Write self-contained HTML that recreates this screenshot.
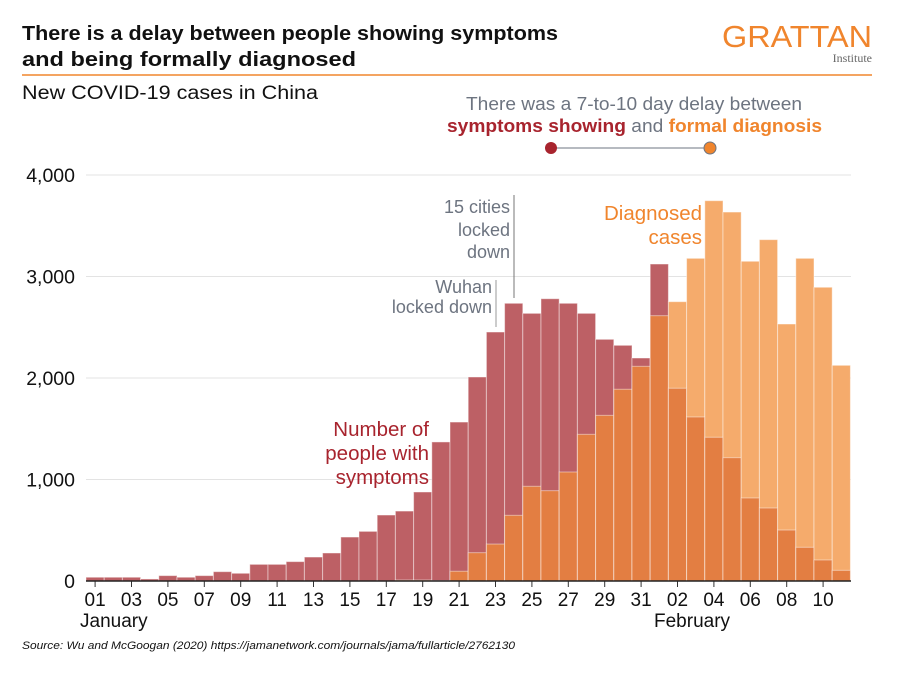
<!DOCTYPE html>
<html><head><meta charset="utf-8"><style>
body{margin:0;background:#fff;font-family:"Liberation Sans",sans-serif}
svg text{font-family:"Liberation Sans",sans-serif}
</style></head><body>
<svg width="906" height="677" xmlns="http://www.w3.org/2000/svg">
<text x="22" y="40" font-size="20" font-weight="bold" fill="#111" textLength="536" lengthAdjust="spacingAndGlyphs">There is a delay between people showing symptoms</text>
<text x="22" y="66" font-size="20" font-weight="bold" fill="#111" textLength="334" lengthAdjust="spacingAndGlyphs">and being formally diagnosed</text>
<text x="872" y="47" font-size="31" fill="#f0852d" text-anchor="end" textLength="150" lengthAdjust="spacingAndGlyphs">GRATTAN</text>
<text x="872" y="62" font-size="12" fill="#666" text-anchor="end" style="font-family:'Liberation Serif',serif">Institute</text>
<line x1="22" y1="75" x2="872" y2="75" stroke="#f0852d" stroke-width="1.5"/>
<text x="22" y="99" font-size="19" fill="#111" textLength="296" lengthAdjust="spacingAndGlyphs">New COVID-19 cases in China</text>
<text x="466" y="110" font-size="18" fill="#6d7480" textLength="336" lengthAdjust="spacingAndGlyphs">There was a 7-to-10 day delay between</text>
<text x="447" y="132" font-size="18" font-weight="bold" textLength="375" lengthAdjust="spacingAndGlyphs"><tspan fill="#a8242e">symptoms showing</tspan><tspan fill="#6d7480" font-weight="normal"> and </tspan><tspan fill="#f0852d">formal diagnosis</tspan></text>
<line x1="551" y1="148" x2="710" y2="148" stroke="#6d7480" stroke-width="1"/>
<circle cx="551" cy="148" r="6" fill="#a8242e"/>
<circle cx="710" cy="148" r="6" fill="#f0852d" stroke="#6d7480" stroke-width="1"/>
<g id="grid"></g><g id="bars"></g><g id="axis"></g>
<line x1="514" y1="195" x2="514" y2="298" stroke="#777"/>
<text font-size="18" fill="#6d7480" text-anchor="end"><tspan x="510" y="213">15 cities</tspan><tspan x="510" y="236">locked</tspan><tspan x="510" y="258">down</tspan></text>
<line x1="496" y1="280" x2="496" y2="327" stroke="#999"/>
<text font-size="18" fill="#6d7480" text-anchor="end"><tspan x="492" y="293">Wuhan</tspan><tspan x="492" y="313">locked down</tspan></text>
<text font-size="20.5" fill="#a8242e" text-anchor="end"><tspan x="429" y="436">Number of</tspan><tspan x="429" y="460">people with</tspan><tspan x="429" y="484">symptoms</tspan></text>
<text font-size="20.5" fill="#f0852d" text-anchor="end"><tspan x="702" y="220">Diagnosed</tspan><tspan x="702" y="244">cases</tspan></text>
<text x="80" y="627" font-size="19" fill="#111">January</text>
<text x="654" y="627" font-size="19" fill="#111">February</text>
<text x="22" y="649" font-size="11" font-style="italic" fill="#111" textLength="493" lengthAdjust="spacingAndGlyphs">Source: Wu and McGoogan (2020) https://jamanetwork.com/journals/jama/fullarticle/2762130</text>
</svg>
<script>
const days=["01","02","03","04","05","06","07","08","09","10","11","12","13","14","15","16","17","18","19","20","21","22","23","24","25","26","27","28","29","30","31","01","02","03","04","05","06","07","08","09","10","11"];
const symptoms=[37,37,37,20,53,37,53,92,76,164,164,191,236,276,433,489,650,689,877,1370,1566,2010,2453,2736,2637,2781,2736,2637,2381,2322,2197,3123,1899,1616,1416,1215,818,719,502,332,207,105];
const diagnosed=[0,0,0,0,0,0,0,0,0,0,0,0,0,0,0,0,0,10,10,5,96,279,364,647,933,890,1074,1445,1632,1889,2115,2614,2752,3179,3747,3635,3150,3363,2532,3179,2894,2125];
const yTicks=[0,1000,2000,3000,4000];
const yTickLabels=["0","1,000","2,000","3,000","4,000"];
const NS="http://www.w3.org/2000/svg";
const x0=86,bw=18.2,y0=581,k=101.5/1000;
const X=i=>x0+i*bw, Y=v=>y0-v*k;
function mk(t,a,p){const e=document.createElementNS(NS,t);for(const n in a)e.setAttribute(n,a[n]);document.getElementById(p).appendChild(e);return e;}
yTicks.forEach((v,i)=>{
 if(v>0){const g=mk('line',{x1:86,x2:851,y1:Y(v),y2:Y(v),stroke:'#e3e3e3'},'grid');
 
 }
 const t=mk('text',{x:75,y:Y(v)+7,'font-size':19.5,fill:'#111','text-anchor':'end'},'grid');t.textContent=yTickLabels[i];
 
 
});
days.forEach((d,i)=>{
 const s=symptoms[i],dg=diagnosed[i],m=Math.min(s,dg);
 const top=Math.max(s,dg);
 const topCol=s>dg?'#bd6065':'#f5ab6c';
 const r1=mk('rect',{x:X(i),y:Y(top),width:bw,height:top*k,fill:topCol,stroke:'#fff','stroke-opacity':0.45,'stroke-width':1},'bars');
 
 
 if(m>0){const r2=mk('rect',{x:X(i),y:Y(m),width:bw,height:m*k,fill:'#e37e42',stroke:'#fff','stroke-opacity':0.45,'stroke-width':1},'bars');
 
 }
 if(i%2===0){
  const cx=X(i)+bw/2;
  mk('line',{x1:cx,x2:cx,y1:581,y2:587,stroke:'#333'},'axis');
  const t=mk('text',{x:cx,y:606,'font-size':19,fill:'#111','text-anchor':'middle'},'axis');t.textContent=d;
  
  
 }
});
const ax=mk('line',{x1:86,x2:851,y1:581,y2:581,stroke:'#222','stroke-width':1.5},'axis');


</script>
</body></html>
